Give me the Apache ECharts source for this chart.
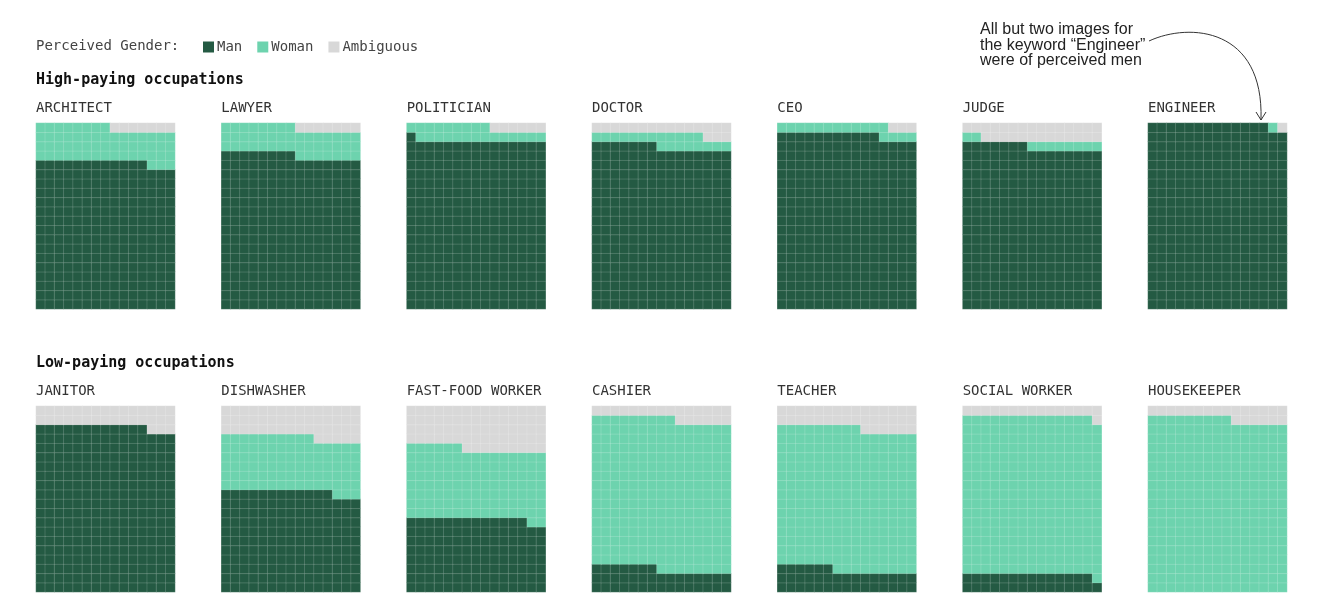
<!DOCTYPE html>
<html>
<head>
<meta charset="utf-8">
<title>Perceived gender by occupation</title>
<script src="https://cdn.jsdelivr.net/npm/echarts@6/dist/echarts.min.js"></script>
<style>
  html, body { margin: 0; padding: 0; background: #fff; }
  #chart { width: 1320px; height: 614px; }
</style>
</head>
<body>
<div id="chart"></div>
<script>
// images per keyword, 300 per occupation
var highJobs = ["ARCHITECT", "LAWYER", "POLITICIAN", "DOCTOR", "CEO", "JUDGE", "ENGINEER"];
var highMan = [237, 248, 271, 262, 281, 262, 298];
var highWoman = [56, 45, 23, 20, 16, 10, 1];
var highAmbiguous = [7, 7, 6, 18, 3, 28, 1];

var lowJobs = ["JANITOR", "DISHWASHER", "FAST-FOOD WORKER", "CASHIER", "TEACHER", "SOCIAL WORKER", "HOUSEKEEPER"];
var lowMan = [267, 162, 118, 37, 36, 29, 0];
var lowWoman = [0, 88, 113, 242, 228, 255, 279];
var lowAmbiguous = [33, 50, 69, 21, 36, 16, 21];

var genders = ["Man", "Woman", "Ambiguous"];
var genderColors = ["#245a43", "#6dd3ae", "#d8d8d8"];

var COLS = 15, ROWS = 20;
var MONO = "'DejaVu Sans Mono', 'Liberation Mono', monospace";

// layout
var panelLeft0 = 36, panelStep = 185.33, panelW = 139, panelH = 186;
var highTop = 123, lowTop = 406;

// turn counts into cells: filled bottom-up, left to right, man first
function buildCells(man, woman, amb) {
  var cells = [];
  var total = man + woman + amb;
  for (var i = 0; i < total; i++) {
    var g = i < man ? 0 : (i < man + woman ? 1 : 2);
    cells.push([i % COLS, Math.floor(i / COLS), g]);
  }
  return cells;
}

var colCats = [], rowCats = [];
for (var c = 0; c < COLS; c++) colCats.push(c);
for (var r = 0; r < ROWS; r++) rowCats.push(r);

var grids = [], xAxes = [], yAxes = [], series = [], graphics = [];

function addRow(jobs, man, woman, amb, top) {
  for (var k = 0; k < jobs.length; k++) {
    var idx = grids.length;
    var left = panelLeft0 + panelStep * k;
    grids.push({ left: left, top: top, width: panelW, height: panelH });
    xAxes.push({ type: "category", gridIndex: idx, data: colCats, show: false });
    yAxes.push({ type: "category", gridIndex: idx, data: rowCats, show: false });
    series.push({
      type: "heatmap",
      name: jobs[k],
      xAxisIndex: idx,
      yAxisIndex: idx,
      data: buildCells(man[k], woman[k], amb[k]),
      itemStyle: { borderColor: "rgba(255,255,255,0.2)", borderWidth: 0.8 },
      emphasis: { disabled: true }
    });
    graphics.push({
      type: "text",
      x: left, y: top - 15,
      style: { text: jobs[k], fontFamily: MONO, fontSize: 14, fill: "#333", verticalAlign: "middle" }
    });
  }
}

addRow(highJobs, highMan, highWoman, highAmbiguous, highTop);
addRow(lowJobs, lowMan, lowWoman, lowAmbiguous, lowTop);

graphics.push(
  { type: "text", x: 36, y: 46,
    style: { text: "Perceived Gender:", fontFamily: MONO, fontSize: 14, fill: "#444", verticalAlign: "middle" } },
  { type: "text", x: 36, y: 80,
    style: { text: "High-paying occupations", fontFamily: MONO, fontSize: 15, fontWeight: "bold", fill: "#111", verticalAlign: "middle" } },
  { type: "text", x: 36, y: 363,
    style: { text: "Low-paying occupations", fontFamily: MONO, fontSize: 15, fontWeight: "bold", fill: "#111", verticalAlign: "middle" } },
  { type: "text", x: 980, y: 22,
    style: { text: "All but two images for\nthe keyword \u201cEngineer\u201d\nwere of perceived men",
      fontFamily: "'Liberation Sans', Arial, sans-serif", fontSize: 16, lineHeight: 15.5, fill: "#222", verticalAlign: "top" } },
  { type: "bezierCurve",
    shape: { x1: 1149, y1: 41, cpx1: 1190, cpy1: 22, cpx2: 1264, cpy2: 28, x2: 1261, y2: 120 },
    style: { stroke: "#333", lineWidth: 1, fill: null } },
  { type: "polyline",
    shape: { points: [[1256, 112], [1261, 120], [1266, 112]] },
    style: { stroke: "#333", lineWidth: 1, fill: null } }
);

var chart = echarts.init(document.getElementById("chart"));
chart.setOption({
  animation: false,
  grid: grids,
  xAxis: xAxes,
  yAxis: yAxes,
  visualMap: {
    type: "piecewise",
    dimension: 2,
    orient: "horizontal",
    left: 188,
    top: 25,
    itemWidth: 11,
    itemHeight: 11,
    itemGap: 15,
    textGap: 3,
    itemSymbol: "rect",
    align: "left",
    selectedMode: false,
    textStyle: { fontFamily: MONO, fontSize: 14, color: "#444" },
    pieces: genders.map(function (g, i) {
      return { value: i, label: g, color: genderColors[i] };
    })
  },
  series: series,
  graphic: graphics
});
</script>
</body>
</html>
